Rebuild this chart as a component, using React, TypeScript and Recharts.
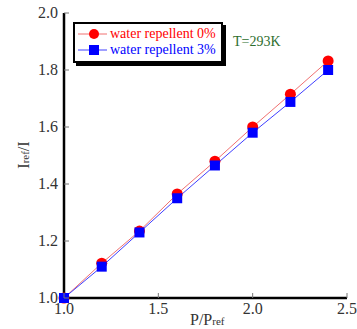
import { LineChart, Line, XAxis, YAxis } from "recharts";

const pressureRatio = [1.0, 1.2, 1.4, 1.6, 1.8, 2.0, 2.2, 2.4];
const repellent0 = [1.0, 1.122, 1.235, 1.365, 1.48, 1.6, 1.715, 1.832];
const repellent3 = [1.0, 1.11, 1.23, 1.35, 1.465, 1.58, 1.688, 1.8];
const xTicks = [1.0, 1.5, 2.0, 2.5];
const yTicks = [1.0, 1.2, 1.4, 1.6, 1.8, 2.0];

const data = pressureRatio.map((p, i) => ({
  p,
  r0: repellent0[i],
  r3: repellent3[i],
}));

const FONT = "'Liberation Serif', 'Times New Roman', Times, serif";
const TICK_LEN = 5;

const BottomTick = (props: any) => {
  const { x, y, payload } = props;
  return (
    <g>
      <line x1={x} x2={x} y1={y - 6} y2={y - 6 - TICK_LEN} stroke="#777" strokeWidth={1} />
      <text x={x} y={y + 10} textAnchor="middle" fontFamily={FONT} fontSize={16} fill="#333">
        {payload.value.toFixed(1)}
      </text>
    </g>
  );
};

const LeftTick = (props: any) => {
  const { x, y, payload } = props;
  return (
    <g>
      <line x1={x + 6} x2={x + 6 + TICK_LEN} y1={y} y2={y} stroke="#777" strokeWidth={1} />
      <text x={x} y={y + 5} textAnchor="end" fontFamily={FONT} fontSize={16} fill="#333">
        {payload.value.toFixed(1)}
      </text>
    </g>
  );
};

const TopTick = (props: any) => {
  const { x, y } = props;
  return <line x1={x} x2={x} y1={y} y2={y + TICK_LEN} stroke="#777" strokeWidth={1} />;
};

const RightTick = (props: any) => {
  const { x, y } = props;
  return <line x1={x} x2={x - TICK_LEN} y1={y} y2={y} stroke="#777" strokeWidth={1} />;
};

const CircleDot = (props: any) => {
  const { cx, cy, index } = props;
  return <circle key={`c-${index}`} cx={cx} cy={cy} r={5.5} fill="#ff0000" />;
};

const SquareDot = (props: any) => {
  const { cx, cy, index } = props;
  return <rect key={`s-${index}`} x={cx - 5} y={cy - 5} width={10} height={10} fill="#0000ff" />;
};

const legendItems = [
  { label: "water repellent 0%", color: "#ff0000", line: "#f07070", shape: "circle" },
  { label: "water repellent 3%", color: "#0000ff", line: "#4040ff", shape: "square" },
];

const LegendBox = () => (
  <div
    style={{
      position: "absolute",
      left: 73,
      top: 22,
      border: "2px solid #000",
      boxShadow: "3px 3px 0 #000",
      background: "#fff",
      padding: "2px 5px 3px 0",
      fontFamily: FONT,
      fontSize: 14,
      lineHeight: "16px",
    }}
  >
    {legendItems.map((item) => (
      <div key={item.label} style={{ display: "flex", alignItems: "center", whiteSpace: "nowrap" }}>
        <svg width={35} height={16}>
          <line x1={3} x2={32} y1={8} y2={8} stroke={item.line} strokeWidth={1} />
          {item.shape === "circle" ? (
            <circle cx={19} cy={8} r={5} fill={item.color} />
          ) : (
            <rect x={14} y={3} width={10} height={10} fill={item.color} />
          )}
        </svg>
        <span style={{ color: item.color }}>{item.label}</span>
      </div>
    ))}
  </div>
);

export default function App() {
  return (
    <div style={{ position: "absolute", left: 0, top: 0, width: 357, height: 329, background: "#fff" }}>
      <LineChart
        width={357}
        height={329}
        data={data}
        margin={{ top: 13, right: 10, left: 0, bottom: 0 }}
      >
        <XAxis
          dataKey="p"
          type="number"
          domain={[1, 2.5]}
          ticks={xTicks}
          xAxisId="bottom"
          height={31}
          tickLine={false}
          tickSize={0}
          tickMargin={6}
          tick={<BottomTick />}
          axisLine={{ stroke: "#000", strokeWidth: 2.5 }}
          interval={0}
        />
        <XAxis
          dataKey="p"
          type="number"
          domain={[1, 2.5]}
          ticks={xTicks}
          xAxisId="top"
          orientation="top"
          height={0}
          tickLine={false}
          tickSize={0}
          tickMargin={0}
          tick={<TopTick />}
          axisLine={{ stroke: "#222", strokeWidth: 1.5 }}
          interval={0}
        />
        <YAxis
          type="number"
          domain={[1, 2]}
          ticks={yTicks}
          yAxisId="left"
          width={64}
          tickLine={false}
          tickSize={0}
          tickMargin={6}
          tick={<LeftTick />}
          axisLine={{ stroke: "#000", strokeWidth: 2.5 }}
          interval={0}
          label={{
            content: () => (
              <text
                transform="translate(29 155) rotate(-90)"
                textAnchor="middle"
                fontFamily={FONT}
                fontSize={16}
                fill="#333"
              >
                I<tspan fontSize={11}>ref</tspan>/I
              </text>
            ),
          }}
        />
        <YAxis
          type="number"
          domain={[1, 2]}
          ticks={yTicks}
          yAxisId="right"
          orientation="right"
          width={0}
          tickLine={false}
          tickSize={0}
          tickMargin={0}
          tick={<RightTick />}
          axisLine={{ stroke: "#222", strokeWidth: 1.5 }}
          interval={0}
        />
        <Line
          xAxisId="bottom"
          yAxisId="left"
          dataKey="r0"
          stroke="#f07070"
          strokeWidth={1}
          dot={<CircleDot />}
          activeDot={false}
          isAnimationActive={false}
        />
        <Line
          xAxisId="bottom"
          yAxisId="left"
          dataKey="r3"
          stroke="#4040ff"
          strokeWidth={1}
          dot={<SquareDot />}
          activeDot={false}
          isAnimationActive={false}
        />
        <text x={233} y={46} fontFamily={FONT} fontSize={14} fill="#2e6e2e">
          T=293K
        </text>
        <text x={190} y={325} fontFamily={FONT} fontSize={16} fill="#333">
          P/P<tspan fontSize={11}>ref</tspan>
        </text>
      </LineChart>
      <LegendBox />
    </div>
  );
}
